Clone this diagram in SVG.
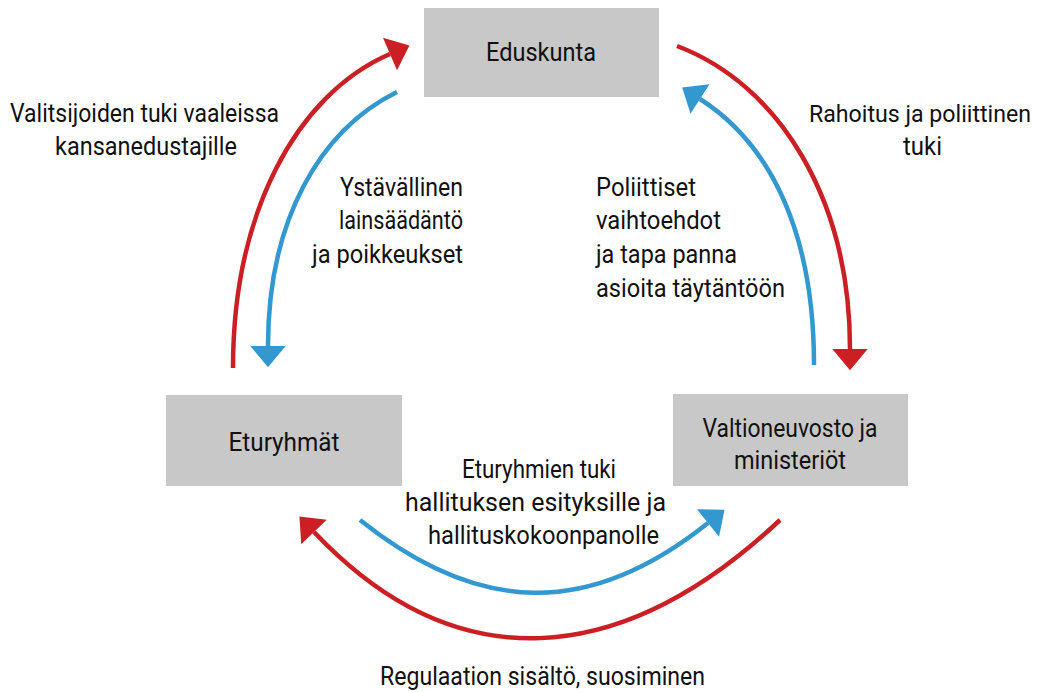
<svg xmlns="http://www.w3.org/2000/svg" width="1038" height="692" viewBox="0 0 1038 692">
<style>
.box{fill:#c8c8c8}
.t{font-family:Roboto,"Liberation Sans",Arial,sans-serif;font-weight:400;font-size:25px;fill:#111}
.red{fill:none;stroke:#cc1f24;stroke-width:4.5}
.blue{fill:none;stroke:#3298cf;stroke-width:4.5}
</style>
<defs>
<marker id="ar" markerUnits="userSpaceOnUse" markerWidth="40" markerHeight="40" viewBox="-2 -17 22 34" refX="0" refY="0" orient="auto"><path d="M0,-15 L18,0 L0,15 z" fill="#cc1f24"/></marker>
<marker id="ab" markerUnits="userSpaceOnUse" markerWidth="40" markerHeight="40" viewBox="-2 -17 22 34" refX="0" refY="0" orient="auto"><path d="M0,-15 L18,0 L0,15 z" fill="#3298cf"/></marker>
</defs>
<g id="connectors">
<path class="red" d="M233,368 C233,215 295,95 390,54" marker-end="url(#ar)"/>
<path class="red" d="M677,46 C780,85 850,200 850,349" marker-end="url(#ar)"/>
<path class="red" d="M780,520 C620,670 455,681 314,532" marker-end="url(#ar)"/>
<path class="blue" d="M397,92 C320,130 268,220 268,346" marker-end="url(#ab)"/>
<path class="blue" d="M814,365 C814,235 772,145 700,99" marker-end="url(#ab)"/>
<path class="blue" d="M360,520 C479,615 589,618 708,523" marker-end="url(#ab)"/>
</g>
<g id="eduskunta"><rect class="box" x="424" y="8" width="235" height="89"/><text class="t" x="541" y="61" text-anchor="middle" textLength="110" lengthAdjust="spacingAndGlyphs">Eduskunta</text></g>
<g id="eturyhmat"><rect class="box" x="166" y="395" width="236" height="91"/><text class="t" x="284" y="451" text-anchor="middle" textLength="111" lengthAdjust="spacingAndGlyphs">Eturyhmät</text></g>
<g id="valtioneuvosto"><rect class="box" x="673" y="394" width="235" height="92"/><text class="t" x="790" y="437" text-anchor="middle" textLength="175" lengthAdjust="spacingAndGlyphs">Valtioneuvosto ja</text><text class="t" x="790" y="469" text-anchor="middle" textLength="112" lengthAdjust="spacingAndGlyphs">ministeriöt</text></g>
<g id="labels">
<text class="t" x="10" y="122" textLength="269" lengthAdjust="spacingAndGlyphs">Valitsijoiden tuki vaaleissa</text>
<text class="t" x="55" y="155" textLength="182" lengthAdjust="spacingAndGlyphs">kansanedustajille</text>
<text class="t" x="920" y="122" text-anchor="middle" style="font-size:24px" textLength="222" lengthAdjust="spacingAndGlyphs">Rahoitus ja poliittinen</text>
<text class="t" x="903" y="155" textLength="39" lengthAdjust="spacingAndGlyphs">tuki</text>
<text class="t" x="340" y="196" textLength="123" lengthAdjust="spacingAndGlyphs">Ystävällinen</text>
<text class="t" x="339" y="229" textLength="124" lengthAdjust="spacingAndGlyphs">lainsäädäntö</text>
<text class="t" x="312" y="263" textLength="151" lengthAdjust="spacingAndGlyphs">ja poikkeukset</text>
<text class="t" x="596" y="196" textLength="100" lengthAdjust="spacingAndGlyphs">Poliittiset</text>
<text class="t" x="596" y="229" textLength="125" lengthAdjust="spacingAndGlyphs">vaihtoehdot</text>
<text class="t" x="596" y="263" textLength="141" lengthAdjust="spacingAndGlyphs">ja tapa panna</text>
<text class="t" x="596" y="297" textLength="189" lengthAdjust="spacingAndGlyphs">asioita täytäntöön</text>
<text class="t" x="462" y="478" textLength="154" lengthAdjust="spacingAndGlyphs">Eturyhmien tuki</text>
<text class="t" x="405" y="511" textLength="261" lengthAdjust="spacingAndGlyphs">hallituksen esityksille ja</text>
<text class="t" x="428" y="544" textLength="231" lengthAdjust="spacingAndGlyphs">hallituskokoonpanolle</text>
<text class="t" x="380" y="685" textLength="325" lengthAdjust="spacingAndGlyphs">Regulaation sisältö, suosiminen</text>
</g>
</svg>
